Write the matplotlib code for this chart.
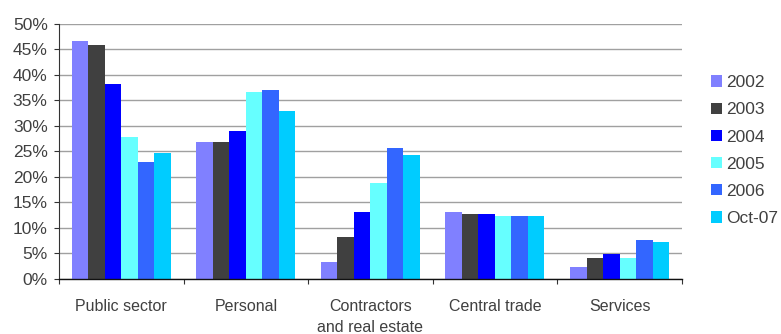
import matplotlib.pyplot as plt
import numpy as np
from matplotlib.ticker import FuncFormatter, FixedLocator

# ----------------------------------
# Data: share of credit by sector (%)
# ----------------------------------
sectors = ['Public sector', 'Personal', 'Contractors\nand real estate', 'Central trade', 'Services']
years = ['2002', '2003', '2004', '2005', '2006', 'Oct-07']

share_2002 = [46.5, 26.7, 3.3, 13.0, 2.2]
share_2003 = [45.7, 26.7, 8.2, 12.6, 4.1]
share_2004 = [38.1, 28.9, 13.0, 12.6, 4.9]
share_2005 = [27.7, 36.5, 18.7, 12.2, 4.1]
share_2006 = [22.8, 36.9, 25.5, 12.2, 7.5]
share_oct07 = [24.7, 32.8, 24.3, 12.2, 7.1]

series = [share_2002, share_2003, share_2004, share_2005, share_2006, share_oct07]
colors = ['#8080ff', '#404040', '#0000ff', '#66ffff', '#3366ff', '#00ccff']

# --- Plot defaults ---
plt.rcdefaults()
plt.rc('font', family=['Liberation Sans', 'DejaVu Sans'], size=12)
txt_clr = '#404040'

fig = plt.figure(figsize=(7.81, 3.34), dpi=100)
ax = fig.add_axes([0.0755, 0.166, 0.7975, 0.7636])

# --- Bars ---
x = np.arange(len(sectors))
w = 0.1325
for i, (vals, clr, lbl) in enumerate(zip(series, colors, years)):
    ax.bar(x + (i - 2.5) * w, np.array(vals) / 100, width=w, color=clr, label=lbl,
           linewidth=0, zorder=2)

# --- Axes setup ---
ax.set_xlim(-0.5, len(sectors) - 0.5)
ax.set_ylim(0, 0.5)
ax.set_yticks(np.arange(0, 0.501, 0.05))
ax.yaxis.set_major_formatter(FuncFormatter(lambda v, p: '%d%%' % round(v * 100)))
ax.grid(True, axis='y', color='#a0a0a0', linewidth=1.0, zorder=0)
ax.set_axisbelow(True)

ax.set_xticks(x)
ax.set_xticklabels(sectors, linespacing=1.5)
ax.xaxis.set_minor_locator(FixedLocator(np.arange(-0.5, len(sectors), 1.0)))
ax.tick_params(axis='x', which='major', length=0, pad=14.5, labelcolor=txt_clr, labelsize=11.5)
ax.tick_params(axis='x', which='minor', length=3.6, width=0.8, color='#333333')
ax.tick_params(axis='y', length=3.6, width=0.8, pad=4.5, labelcolor=txt_clr,
               labelsize=12.5, color='#333333')

for s in ['top', 'right']:
    ax.spines[s].set_visible(False)
ax.spines['left'].set_color('#333333')
ax.spines['left'].set_linewidth(0.8)
ax.spines['bottom'].set_color('#111111')
ax.spines['bottom'].set_linewidth(1.0)

# --- Legend ---
leg = fig.legend(loc='center left', bbox_to_anchor=(0.910, 0.549), frameon=False,
                 handlelength=0.64, handleheight=0.64, handletextpad=0.22,
                 labelspacing=0.70, borderpad=0, borderaxespad=0, fontsize=12.5)
for t in leg.get_texts():
    t.set_color(txt_clr)

fig.savefig('out.png', dpi=100)
